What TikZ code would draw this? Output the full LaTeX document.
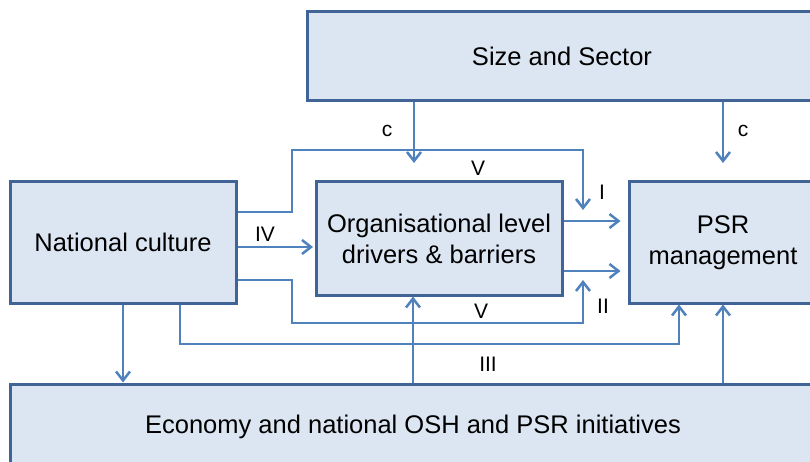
\documentclass[tikz,border=0pt]{standalone}
\usepackage{fontspec}
\setmainfont{Liberation Sans}
\usetikzlibrary{arrows.meta}
\definecolor{boxfill}{RGB}{220,230,242}
\definecolor{boxline}{RGB}{65,100,150}
\definecolor{arrcol}{RGB}{79,129,189}
\begin{document}
\begin{tikzpicture}[x=1pt,y=-1pt,
  box/.style={draw=boxline, fill=boxfill, line width=3pt, align=center, inner sep=0pt, font=\fontsize{25.5}{31}\selectfont},
  arr/.style={draw=arrcol, line width=2.5pt, -{Straight Barb[length=9pt,width=14pt]}},
  lbl/.style={font=\fontsize{21}{25}\selectfont, inner sep=0pt}]
\useasboundingbox (0,0) rectangle (810,462);
\clip (0,0) rectangle (810,462);
% boxes
\node[box, minimum width=509.5pt, minimum height=89pt] (size) at (562,56.5) {Size and Sector};
\node[box, minimum width=226pt, minimum height=121pt] (nat) at (123,242.5) {National culture};
\node[box, minimum width=246pt, minimum height=113pt] (org) at (439,238.5) {Organisational level\\drivers \& barriers};
\node[box, minimum width=188pt, minimum height=121pt] (psr) at (723,242.5) {PSR\\management};
\node[box, minimum width=806pt, minimum height=86pt] (econ) at (413,427) {Economy and national OSH and PSR initiatives};
% free ends
\coordinate (t1) at (414,163);
\coordinate (t2) at (723,163);
\coordinate (v1) at (292,150);
\coordinate (v1e) at (583,210);
\coordinate (v2) at (292,323);
\coordinate (v2e) at (583,280);
\coordinate (k3) at (679,344);
% connectors
\draw[arr] (size.south -| t1) -- (t1);
\draw[arr] (size.south -| t2) -- (t2);
\draw[arr] (nat.east |- 0,212) -| (v1) -| (v1e);
\draw[arr] (nat.east |- 0,280) -| (v2) -| (v2e);
\draw[arr, shorten >=1.5pt] (nat.east |- 0,247) -- (org.west |- 0,247);
\draw[arr, shorten >=7pt] (org.east |- 0,221) -- (psr.west |- 0,221);
\draw[arr, shorten >=7pt] (org.east |- 0,271) -- (psr.west |- 0,271);
\draw[arr] (nat.south -| 180,0) |- (k3) -- (k3 |- psr.south);
\draw[arr] (nat.south) -- (nat.south |- econ.north);
\draw[arr] (econ.north) -- (econ.north |- org.south);
\draw[arr] (econ.north -| psr.south) -- (psr.south);
% labels
\node[lbl] (lc1) at (387,131) {c};
\node[lbl] (lc2) at (743,131) {c};
\node[lbl] (lv1) at (478,168) {V};
\node[lbl] (li) at (602,192) {I};
\node[lbl] (liv) at (265,234) {IV};
\node[lbl] (lv2) at (481,311) {V};
\node[lbl] (lii) at (603,306) {II};
\node[lbl] (liii) at (488,364) {III};
\end{tikzpicture}
\end{document}
